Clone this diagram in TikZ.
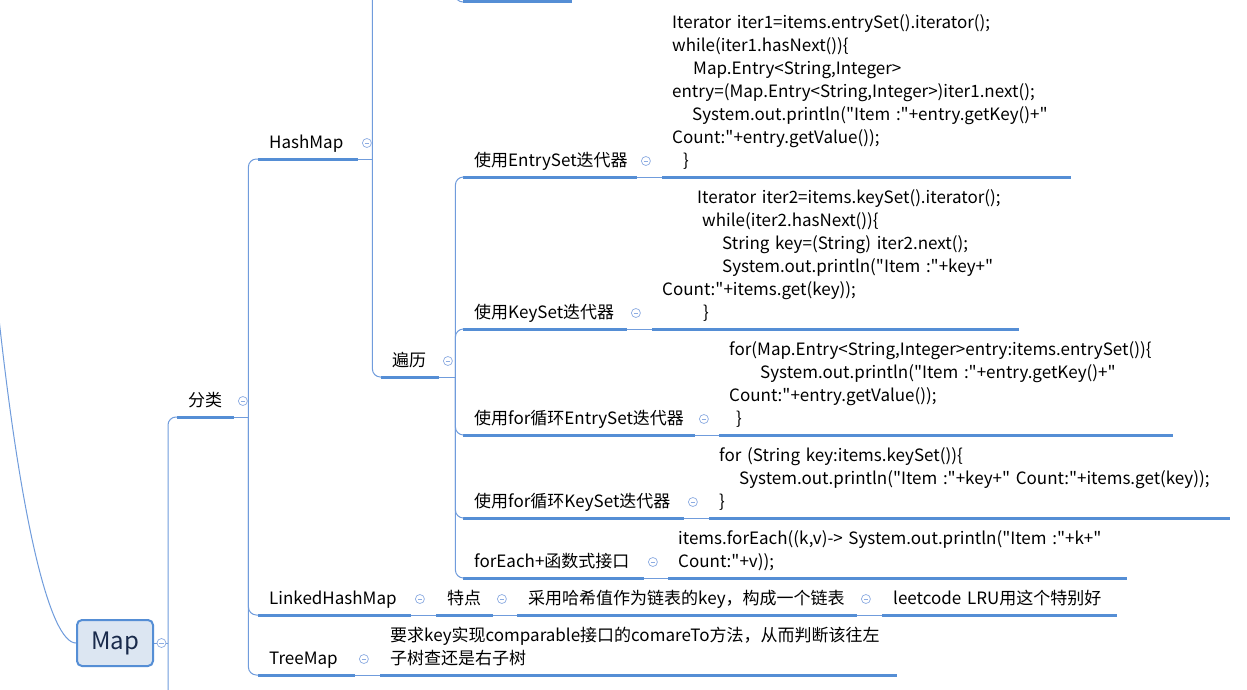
\documentclass[tikz,border=0pt]{standalone}
\usepackage{fontspec}
\setmainfont{Noto Sans CJK SC}
\newfontfamily\nf{Noto Sans CJK SC}
\usetikzlibrary{calc}
\definecolor{ulc}{RGB}{85,142,213}
\definecolor{thinc}{RGB}{112,156,220}
\definecolor{btnc}{RGB}{140,172,226}
\definecolor{mapfill}{RGB}{220,230,242}
\definecolor{maptext}{RGB}{25,42,75}
\newcommand\tfont{\nf\fontsize{17}{23}\selectfont}
\newcommand\codeln[2]{\hspace*{#1pt}\mbox{#2}\strut}
\tikzset{
  topic/.style={anchor=south west, inner xsep=11pt, inner ysep=3.1pt, align=left, font=\tfont, text=black},
  code/.style={topic, inner xsep=10pt},
  ulline/.style={draw=ulc, line width=3pt},
  conn/.style={draw=thinc, line width=1pt},
  branch/.style={conn, rounded corners=8pt},
  btn/.style={circle, draw=btnc, fill=white, line width=0.7pt, minimum size=9pt, inner sep=0pt,
    path picture={\draw[btnc, line width=0.7pt] ([xshift=-2.3pt]path picture bounding box.center) -- ([xshift=2.3pt]path picture bounding box.center);}},
  mapbox/.style={rectangle, rounded corners=5pt, draw=ulc, line width=2pt, fill=mapfill, text=maptext,
    minimum width=76pt, minimum height=46pt, inner sep=0pt, font=\nf\fontsize{24}{28}\selectfont},
}
\begin{document}
\begin{tikzpicture}[x=1pt, y=-1pt]
\useasboundingbox (0,0) rectangle (1247,690);
\clip (0,0) rectangle (1247,690);
\fill[white] (0,0) rectangle (1247,690);

% ---------- nodes ----------
\node[mapbox] (map) at (115,643) {Map};
\node[topic, text width=35pt] (fenlei) at (177,417) {\codeln{0}{分类}};
\node[topic, text width=78pt] (hashmap) at (258,159) {\codeln{0}{HashMap}};
\node[topic, text width=87pt] (hmtop) at (463,2) {\strut};
\node[topic, text width=36pt] (bianli) at (381,377) {\codeln{0}{遍历}};

\node[topic, text width=152pt] (es) at (463,177) {\codeln{0}{使用EntrySet迭代器}};
\node[code, text width=389pt] (esc) at (662,177) {%
\codeln{0}{Iterator iter1=items.entrySet().iterator();}\\
\codeln{0}{while(iter1.hasNext())\{}\\
\codeln{21}{Map.Entry<String,Integer>}\\
\codeln{0}{entry=(Map.Entry<String,Integer>)iter1.next();}\\
\codeln{20}{System.out.println("Item :"+entry.getKey()+"}\\
\codeln{0}{Count:"+entry.getValue());}\\
\codeln{11}{\}}};

\node[topic, text width=142pt] (ks) at (463,329) {\codeln{0}{使用KeySet迭代器}};
\node[code, text width=347pt] (ksc) at (652,329) {%
\codeln{35}{Iterator iter2=items.keySet().iterator();}\\
\codeln{40}{while(iter2.hasNext())\{}\\
\codeln{60}{String key=(String) iter2.next();}\\
\codeln{60}{System.out.println("Item :"+key+"}\\
\codeln{0}{Count:"+items.get(key));}\\
\codeln{41}{\}}};

\node[topic, text width=210pt] (fes) at (463,435) {\codeln{0}{使用for循环EntrySet迭代器}};
\node[code, text width=434pt] (fesc) at (719,435) {%
\codeln{0}{for(Map.Entry<String,Integer>entry:items.entrySet())\{}\\
\codeln{31}{System.out.println("Item :"+entry.getKey()+"}\\
\codeln{0}{Count:"+entry.getValue());}\\
\codeln{7}{\}}};

\node[topic, text width=199pt] (fks) at (463,518) {\codeln{0}{使用for循环KeySet迭代器}};
\node[code, text width=501pt] (fksc) at (709,518) {%
\codeln{0}{for (String key:items.keySet())\{}\\
\codeln{20}{System.out.println("Item :"+key+" Count:"+items.get(key));}\\
\codeln{0}{\}}};

\node[topic, text width=159pt] (fe) at (463,578) {\codeln{0}{forEach+函数式接口}};
\node[code, text width=439pt] (fec) at (668,578) {%
\codeln{0}{items.forEach((k,v)-> System.out.println("Item :"+k+"}\\
\codeln{0}{Count:"+v));}};

\node[topic, text width=131pt] (lhm) at (258,615) {\codeln{0}{LinkedHashMap}};
\node[topic, text width=35pt] (td) at (436,615) {\codeln{0}{特点}};
\node[topic, text width=318pt] (cy) at (517,615) {\codeln{0}{采用哈希值作为链表的key，构成一个链表}};
\node[topic, text width=213pt] (lc) at (882,615) {\codeln{0}{leetcode LRU用这个特别好}};

\node[topic, text width=75pt] (tm) at (258,675) {\codeln{0}{TreeMap}};
\node[code, text width=497pt] (tmd) at (380,675) {%
\codeln{0}{要求key实现comparable接口的comareTo方法，从而判断该往左}\\
\codeln{0}{子树查还是右子树}};

% ---------- underlines ----------
\foreach \n in {fenlei,hashmap,hmtop,bianli,es,esc,ks,ksc,fes,fesc,fks,fksc,fe,fec,lhm,td,cy,lc,tm,tmd}
  \draw[ulline] (\n.south west) -- (\n.south east);

% ---------- junctions / off-picture ends ----------
\coordinate (mapparent) at (-3,300);
\coordinate (mapnext) at (177,740);
\coordinate (hmprev) at (382,-40);
\coordinate (topparent) at (455,-40);
\coordinate (map-j) at ($(map.east)+(14,0)$);
\coordinate (fenlei-j) at ($(fenlei.south east)+(14,0)$);
\coordinate (hashmap-j) at ($(hashmap.south east)+(14,0)$);
\coordinate (bianli-j) at ($(bianli.south east)+(16,0)$);

% ---------- connectors ----------
\draw[conn] (mapparent) .. controls (20,520) and (50,643) .. (map.west);
\draw[conn] (map.east) -- (map-j);
\draw[branch] (map-j) |- (fenlei.south west);
\draw[branch] (map-j) |- (mapnext);

\draw[conn] (fenlei.south east) -- (fenlei-j);
\draw[branch] (fenlei-j) |- (hashmap.south west);
\draw[branch] (fenlei-j) |- (lhm.south west);
\draw[branch] (fenlei-j) |- (tm.south west);

\draw[conn] (hashmap.south east) -- (hashmap-j);
\draw[branch] (hashmap-j) |- (hmprev);
\draw[branch] (hashmap-j) |- (bianli.south west);
\draw[branch] (topparent) |- (hmtop.south west);

\draw[conn] (bianli.south east) -- (bianli-j);
\foreach \c in {es,ks,fes,fks,fe}
  \draw[branch] (bianli-j) |- (\c.south west);

\draw[conn] (es.south east) -- (esc.south west);
\draw[conn] (ks.south east) -- (ksc.south west);
\draw[conn] (fes.south east) -- (fesc.south west);
\draw[conn] (fks.south east) -- (fksc.south west);
\draw[conn] (fe.south east) -- (fec.south west);
\draw[conn] (lhm.south east) -- (td.south west);
\draw[conn] (td.south east) -- (cy.south west);
\draw[conn] (cy.south east) -- (lc.south west);
\draw[conn] (tm.south east) -- (tmd.south west);

% ---------- collapse buttons ----------
\node[btn] (map-b) at ($(map.east)+(7.5,0)$) {};
\foreach \n in {fenlei,hashmap,bianli,es,ks,fes,fks,fe,lhm,td,cy,tm}
  \node[btn] (\n-b) at ($(\n.south east)+(8.5,-16)$) {};
\end{tikzpicture}
\end{document}
